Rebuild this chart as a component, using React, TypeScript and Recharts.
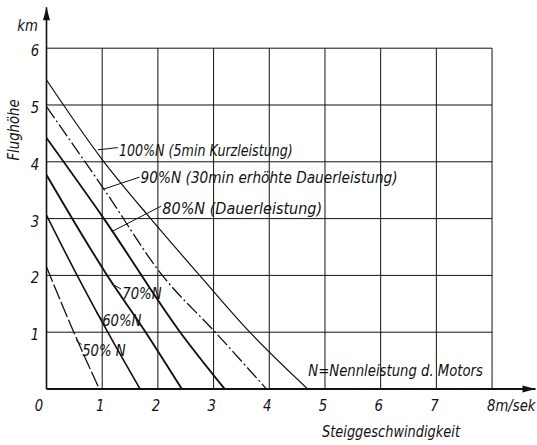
import React from 'react';
import { LineChart, Line, XAxis, YAxis, ReferenceLine, ReferenceDot } from 'recharts';

// Steiggeschwindigkeit (m/sek) and Flughöhe (km) for each power setting
const speed100 = [0, 1.0, 1.87, 2.75, 3.65, 4.69];
const height100 = [5.44, 4.04, 3.0, 2.0, 1.0, 0];
const speed90 = [0, 1.03, 2.08, 3.03, 3.95];
const height90 = [4.97, 3.52, 2.0, 1.0, 0];
const speed80 = [0, 1.03, 2.4, 3.2];
const height80 = [4.42, 3.0, 1.0, 0];
const speed70 = [0, 1.09, 1.78, 2.43];
const height70 = [3.77, 2.0, 1.0, 0];
const speed60 = [0, 0.55, 1.1, 1.68];
const height60 = [3.06, 2.0, 1.0, 0];
const speed50 = [0, 0.49, 0.95];
const height50 = [2.15, 1.0, 0];

const xTicks = [0, 1, 2, 3, 4, 5, 6, 7, 8];
const yTicks = [1, 2, 3, 4, 5, 6];
const gridX = [1, 2, 3, 4, 5, 6, 7, 8];
const gridY = [1, 2, 3, 4, 5, 6];

const labels100 = '100%N (5min Kurzleistung)';
const labels90 = '90%N (30min erhöhte Dauerleistung)';
const labels80 = '80%N (Dauerleistung)';
const labels70 = '70%N';
const labels60 = '60%N';
const labels50 = '50% N';
const noteText = 'N=Nennleistung d. Motors';

const toPoints = (xs: number[], ys: number[]) => xs.map((x, i) => ({ x, y: ys[i] }));

const FONT = "'DejaVu Sans Condensed', 'Liberation Sans Narrow', sans-serif";
const INK = '#111';

const annotations = [
  { text: labels100, from: [0.92, 4.21], to: [1.28, 4.25], at: [1.3, 4.21], sx: 0.88 },
  { text: labels90, from: [1.03, 3.52], to: [1.67, 3.73], at: [1.69, 3.74], sx: 0.95 },
  { text: labels80, from: [1.17, 2.77], to: [2.06, 3.22], at: [2.08, 3.19], sx: 1.0 },
  { text: labels70, from: [1.17, 1.85], to: [1.34, 1.76], at: [1.36, 1.69], sx: 0.92 },
  { text: labels60, from: [0.9, 1.34], to: [1.0, 1.22], at: [1.0, 1.21], sx: 0.92 },
  { text: labels50, from: [0.53, 0.86], to: [0.63, 0.78], at: [0.64, 0.69], sx: 0.92 },
];

const T = ({ x, y, anchor = 'start', sx = 0.92, rotate = 0, children }: any) => (
  <text
    x={0}
    y={0}
    transform={`translate(${x},${y})${rotate ? ` rotate(${rotate})` : ''} scale(${sx},1)`}
    textAnchor={anchor}
    fontFamily={FONT}
    fontStyle="italic"
    fontSize={16}
    fill={INK}
  >
    {children}
  </text>
);

const XTick = (props: any) => {
  const { x, y, payload } = props;
  const v = payload.value;
  if (v === 8) {
    return <T x={x - 5} y={y + 22} anchor="start">8m/sek</T>;
  }
  return <T x={v === 0 ? x - 7.5 : x - 2} y={y + 22} anchor="middle">{v}</T>;
};

const YTick = (props: any) => {
  const { x, y, payload } = props;
  return <T x={x - 11.5} y={y + 8} anchor="middle">{payload.value}</T>;
};

const textShape = (text: string, sx: number) => (p: any) => (
  <T x={p.cx} y={p.cy + 6} anchor="start" sx={sx}>{text}</T>
);

const upArrow = (p: any) => (
  <polygon points={`${p.cx},${p.cy} ${p.cx - 3.5},${p.cy + 13} ${p.cx + 3.5},${p.cy + 13}`} fill={INK} />
);
const rightArrow = (p: any) => (
  <polygon points={`${p.cx},${p.cy} ${p.cx - 13},${p.cy - 3.5} ${p.cx - 13},${p.cy + 3.5}`} fill={INK} />
);

export default function App() {
  return (
    <div style={{ position: 'absolute', left: 0, top: 0, width: 537, height: 445, background: '#fff' }}>
      <LineChart width={537} height={445} margin={{ top: 7.3, right: 1.5, bottom: 26, left: 6.5 }}>
        <XAxis
          type="number"
          dataKey="x"
          domain={[0, 8.78]}
          ticks={xTicks}
          interval={0}
          allowDataOverflow
          height={30}
          tickLine={false}
          tickSize={0}
          tickMargin={0}
          axisLine={{ stroke: INK, strokeWidth: 1.8 }}
          tick={<XTick />}
          label={{
            content: () => <T x={391} y={437} anchor="middle" sx={0.9}>Steiggeschwindigkeit</T>,
          }}
        />
        <YAxis
          type="number"
          dataKey="y"
          domain={[0, 6.72]}
          ticks={yTicks}
          interval={0}
          allowDataOverflow
          width={40}
          tickLine={false}
          tickSize={0}
          tickMargin={0}
          axisLine={{ stroke: INK, strokeWidth: 1.6 }}
          tick={<YTick />}
          label={{
            content: () => (
              <g>
                <T x={27.5} y={31} anchor="middle">km</T>
                <T x={19} y={130} anchor="middle" rotate={-90}>Flughöhe</T>
              </g>
            ),
          }}
        />
        {gridX.map((g) => (
          <ReferenceLine key={'gx' + g} segment={[{ x: g, y: 0 }, { x: g, y: 6 }]} stroke={INK} strokeWidth={1} />
        ))}
        {gridY.map((g) => (
          <ReferenceLine key={'gy' + g} segment={[{ x: 0, y: g }, { x: 8, y: g }]} stroke={INK} strokeWidth={1} />
        ))}
        <ReferenceDot x={0} y={6.72} r={0} ifOverflow="visible" shape={upArrow} />
        <ReferenceDot x={8.78} y={0} r={0} ifOverflow="visible" shape={rightArrow} />

        <Line data={toPoints(speed100, height100)} dataKey="y" type="monotone" stroke={INK} strokeWidth={1.2} dot={false} isAnimationActive={false} />
        <Line data={toPoints(speed90, height90)} dataKey="y" type="monotone" stroke={INK} strokeWidth={1.3} strokeDasharray="14 3 2 3" dot={false} isAnimationActive={false} />
        <Line data={toPoints(speed80, height80)} dataKey="y" type="monotone" stroke={INK} strokeWidth={1.9} dot={false} isAnimationActive={false} />
        <Line data={toPoints(speed70, height70)} dataKey="y" type="monotone" stroke={INK} strokeWidth={1.9} dot={false} isAnimationActive={false} />
        <Line data={toPoints(speed60, height60)} dataKey="y" type="monotone" stroke={INK} strokeWidth={1.6} dot={false} isAnimationActive={false} />
        <Line data={toPoints(speed50, height50)} dataKey="y" type="monotone" stroke={INK} strokeWidth={1.3} strokeDasharray="16 3" dot={false} isAnimationActive={false} />

        {annotations.map((a, i) => (
          <ReferenceLine
            key={'ld' + i}
            segment={[{ x: a.from[0], y: a.from[1] }, { x: a.to[0], y: a.to[1] }]}
            stroke={INK}
            strokeWidth={1}
          />
        ))}
        {annotations.map((a, i) => (
          <ReferenceDot key={'lt' + i} x={a.at[0]} y={a.at[1]} r={0} ifOverflow="visible" shape={textShape(a.text, a.sx)} />
        ))}
        <ReferenceDot x={4.7} y={0.335} r={0} ifOverflow="visible" shape={textShape(noteText, 0.92)} />
      </LineChart>
    </div>
  );
}
